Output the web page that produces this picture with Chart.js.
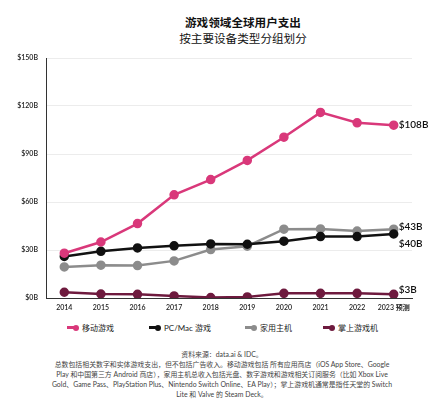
<!DOCTYPE html>
<html>
<head>
<meta charset="utf-8">
<script src="https://cdn.jsdelivr.net/npm/chart.js@4"></script>
<style>
  body { margin: 0; background: #fff; width: 444px; height: 400px; overflow: hidden; position: relative;
         font-family: Lato, "Noto Sans CJK SC", sans-serif; }
  #titulo { position: absolute; top: 15px; left: 0; width: 444px; text-align: center; padding-left: 42px;
            box-sizing: border-box; color: #111; font-size: 11.6px; line-height: 16px; }
  #titulo b { font-weight: bold; }
  #wrap { position: absolute; top: 0; left: 0; width: 444px; height: 318px; }
  #legenda { position: absolute; top: 322px; left: 0; width: 444px; height: 12px; font-size: 8px; color: #222; }
  .item { position: absolute; top: 0; line-height: 12px; white-space: nowrap; }
  .marca { display: inline-block; position: relative; width: 11px; height: 3px; vertical-align: middle;
           margin-right: 4px; margin-top: -2px; }
  .marca i { position: absolute; right: -1px; top: -1.5px; width: 6px; height: 6px; border-radius: 50%; }
  #note { position: absolute; top: 350px; left: 0; width: 444px; font-size: 6.9px; line-height: 9.9px;
          color: #444; text-align: center; white-space: nowrap; }
</style>
</head>
<body>
<div id="titulo"><b>游戏领域全球用户支出</b><br>按主要设备类型分组划分</div>
<div id="wrap"><canvas id="grafico"></canvas></div>
<div id="legenda"></div>
<div id="note">
资料来源：data.ai &amp; IDC。<br>
总数包括相关数字和实体游戏支出，但不包括广告收入。移动游戏包括 所有应用商店（iOS App Store、Google<br>
Play 和中国第三方 Android 商店），家用主机总收入包括光盘、数字游戏和游戏相关订阅服务（比如 Xbox Live<br>
Gold、Game Pass、PlayStation Plus、Nintendo Switch Online、EA Play）；掌上游戏机通常是指任天堂的 Switch<br>
Lite 和 Valve 的 Steam Deck。
</div>
<script>
// Dados (bilhões de USD)
const anos = ['2014', '2015', '2016', '2017', '2018', '2019', '2020', '2021', '2022', '2023 预测'];
const movel = [28, 35, 46.5, 64.5, 74, 86, 100.5, 116, 109.5, 108];
const pcMac = [26, 29.2, 31.3, 32.6, 33.8, 33.6, 35.5, 38.4, 38.4, 40];
const consoleCasa = [19.4, 20.5, 20.3, 23.2, 30.3, 32.4, 43, 43.2, 41.8, 43];
const portatil = [3.6, 2.5, 2.3, 1.3, 0.3, 0.7, 2.9, 2.9, 2.9, 2.3];
const rotulosFinais = ['$108B', '$40B', '$43B', '$3B'];
const ticksY = [0, 30, 60, 90, 120, 150];

const fonte = 'Lato, "Noto Sans CJK SC", sans-serif';

// Rótulos no fim de cada linha
const rotuloFinal = {
    id: 'rotuloFinal',
    afterDatasetsDraw(chart) {
        const ctx = chart.ctx;
        const ajuste = [0, 10, -2, -5];
        ctx.save();
        ctx.font = '600 10px ' + fonte;
        ctx.fillStyle = '#111';
        ctx.textBaseline = 'middle';
        chart.data.datasets.forEach((ds, i) => {
            const pts = chart.getDatasetMeta(i).data;
            const p = pts[pts.length - 1];
            ctx.fillText(rotulosFinais[i], p.x + 5, p.y + ajuste[i]);
        });
        ctx.restore();
    }
};

function serie(label, data, cor) {
    return {
        label: label,
        data: data,
        borderColor: cor,
        backgroundColor: cor,
        borderWidth: 2.5,
        pointRadius: 3.5,
        pointHoverRadius: 3.5,
        tension: 0
    };
}

const grafico = new Chart(document.getElementById('grafico').getContext('2d'), {
    type: 'line',
    data: {
        labels: anos,
        datasets: [
            serie('移动游戏', movel, '#d9387a'),
            serie('PC/Mac 游戏', pcMac, '#111111'),
            serie('家用主机', consoleCasa, '#8c8c8c'),
            serie('掌上游戏机', portatil, '#6e1a3e')
        ]
    },
    options: {
        responsive: true,
        maintainAspectRatio: false,
        animation: false,
        layout: { padding: { left: 0, right: 32, top: 58, bottom: 0 } },
        plugins: {
            legend: { display: false },
            tooltip: { enabled: false }
        },
        scales: {
            x: {
                offset: true,
                grid: { display: false, drawTicks: false },
                border: { color: '#333', width: 1 },
                afterFit(scale) { scale.height = 20; },
                ticks: { color: '#222', font: { family: fonte, size: 7, weight: '600' }, maxRotation: 0, padding: 6 }
            },
            y: {
                min: 0,
                max: 150,
                afterFit(scale) { scale.width = 46; },
                afterBuildTicks(scale) { scale.ticks = ticksY.map(v => ({ value: v })); },
                grid: { color: '#ececec', drawTicks: false },
                border: { color: '#333', width: 1 },
                ticks: {
                    color: '#222',
                    padding: 8,
                    font: { family: fonte, size: 7, weight: '600' },
                    callback: v => '$' + v + 'B'
                }
            }
        }
    },
    plugins: [rotuloFinal]
});

// Legenda em HTML, montada a partir dos datasets
const posLegenda = [67, 149, 245, 323];
const legenda = document.getElementById('legenda');
grafico.data.datasets.forEach((ds, i) => {
    const item = document.createElement('span');
    item.className = 'item';
    item.style.left = posLegenda[i] + 'px';
    item.innerHTML = '<span class="marca" style="background:' + ds.borderColor + '"><i style="background:' +
        ds.borderColor + '"></i></span>' + ds.label;
    legenda.appendChild(item);
});
</script>
</body>
</html>
